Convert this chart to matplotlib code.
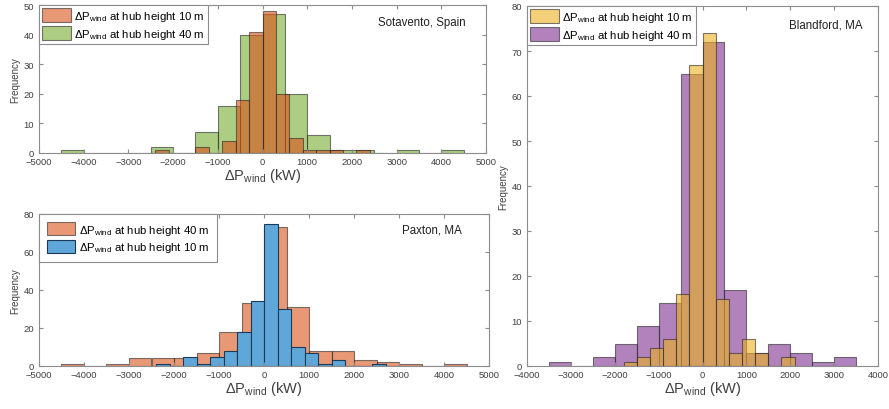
import numpy as np
import matplotlib
matplotlib.use('Agg')
import matplotlib.pyplot as plt
from matplotlib.patches import Patch

plt.rcParams['font.family'] = ['Liberation Sans', 'DejaVu Sans']
plt.rcParams['mathtext.fontset'] = 'custom'
plt.rcParams['mathtext.rm'] = 'Liberation Sans'
plt.rcParams['mathtext.it'] = 'Liberation Sans'

# bin edges of the histograms (kW)
edges_500_wide = np.arange(-4500, 4501, 500)
edges_300_wide = np.arange(-2400, 2701, 300)
edges_500_blandford = np.arange(-3500, 3501, 500)
edges_300_blandford = np.arange(-1800, 2101, 300)

# Sotavento, Spain
sotavento_10m = [1, 0, 0, 2, 0, 4, 18, 41, 48, 20, 5, 1, 1, 1, 0, 1, 0]
sotavento_40m = [1, 0, 0, 0, 2, 0, 7, 16, 40, 47, 20, 6, 1, 1, 0, 1, 0, 1]

# Paxton, MA
paxton_40m = [1, 0, 1, 4, 4, 4, 7, 18, 33, 73, 31, 8, 8, 3, 2, 1, 0, 1]
paxton_10m = [1, 0, 5, 1, 5, 8, 18, 34, 75, 30, 10, 7, 1, 3, 0, 0, 1]

# Blandford, MA
blandford_10m = [1, 2, 4, 6, 16, 67, 74, 15, 3, 6, 3, 0, 2]
blandford_40m = [1, 0, 2, 5, 9, 14, 65, 72, 17, 3, 5, 3, 1, 2]

matlab_orange = (0.850, 0.325, 0.098)
matlab_green = (0.466, 0.674, 0.188)
paxton_blue = '#5fa7d9'
matlab_yellow = (0.929, 0.694, 0.125)
matlab_purple = (0.494, 0.184, 0.556)
edge_col = (0.15, 0.15, 0.15)
axis_col = '#8c8c8c'
xlabel_text = r'$\Delta$P$_{\mathrm{wind}}$ (kW)'


def draw_hist(axes, edges, counts, colour, alpha=0.6, ec=edge_col):
    edges = np.asarray(edges)
    axes.bar(edges[:-1], counts, width=np.diff(edges), align='edge',
             color=colour, alpha=alpha, edgecolor=ec, linewidth=0.8)


def style_axes(axes, xlim, ylim, yticks, place):
    axes.set_xlim(xlim)
    axes.set_ylim(ylim)
    axes.set_xticks(np.arange(xlim[0], xlim[1] + 1, 1000))
    axes.set_yticks(yticks)
    axes.tick_params(direction='in', top=True, right=True, labelsize=6.8,
                     color=axis_col, labelcolor='#404040', length=3)
    axes.tick_params(axis='x', pad=3.2)
    axes.tick_params(axis='y', pad=3.5)
    for s in axes.spines.values():
        s.set_color(axis_col)
        s.set_linewidth(0.8)
    axes.set_ylabel('Frequency', fontsize=7, color='#404040', labelpad=2)
    axes.set_xlabel(xlabel_text, fontsize=10.5, color='#404040', labelpad=0)
    axes.text(place[0], place[1], place[2], transform=axes.transAxes,
              ha='right', va='center', fontsize=8.3, color='#202020')


def make_legend(axes, items, pad=0.3):
    handles = [Patch(facecolor=c, alpha=a, edgecolor=e, linewidth=0.8)
               for c, a, e, lab in items]
    labels = [r'$\Delta$P$_{\mathrm{wind}}$ at hub height ' + lab for c, a, e, lab in items]
    leg = axes.legend(handles, labels, loc='upper left', borderaxespad=0,
                      fancybox=False, edgecolor=axis_col, fontsize=8.2,
                      handlelength=2.5, handleheight=1.45, handletextpad=0.3,
                      labelspacing=0.3, borderpad=pad, framealpha=1)
    leg.get_frame().set_linewidth(0.8)


fig = plt.figure(figsize=(8.89, 4.10), dpi=100)

ax1 = fig.add_axes([39 / 889, (410 - 154) / 410, 447 / 889, 148 / 410])
draw_hist(ax1, edges_500_wide, sotavento_40m, matlab_green)
draw_hist(ax1, edges_300_wide, sotavento_10m, matlab_orange)
style_axes(ax1, (-5000, 5000), (0, 50), np.arange(0, 51, 10),
           (0.955, 0.885, 'Sotavento, Spain'))
make_legend(ax1, [(matlab_orange, 0.6, edge_col, '10 m'),
                  (matlab_green, 0.6, edge_col, '40 m')])

ax2 = fig.add_axes([39 / 889, (410 - 367) / 410, 450 / 889, 152 / 410])
draw_hist(ax2, edges_500_wide, paxton_40m, matlab_orange)
draw_hist(ax2, edges_300_wide, paxton_10m, paxton_blue, alpha=1, ec='#1c3a55')
style_axes(ax2, (-5000, 5000), (0, 80), np.arange(0, 81, 20),
           (0.94, 0.895, 'Paxton, MA'))
make_legend(ax2, [(matlab_orange, 0.6, edge_col, '40 m'),
                  (paxton_blue, 1, '#1c3a55', '10 m')], pad=0.7)

ax3 = fig.add_axes([527 / 889, (410 - 367) / 410, 351 / 889, 360 / 410])
draw_hist(ax3, edges_500_blandford, blandford_40m, matlab_purple)
draw_hist(ax3, edges_300_blandford, blandford_10m, matlab_yellow)
style_axes(ax3, (-4000, 4000), (0, 80), np.arange(0, 81, 10),
           (0.957, 0.95, 'Blandford, MA'))
make_legend(ax3, [(matlab_yellow, 0.6, edge_col, '10 m'),
                  (matlab_purple, 0.6, edge_col, '40 m')])

fig.savefig('out.png', dpi=100)
